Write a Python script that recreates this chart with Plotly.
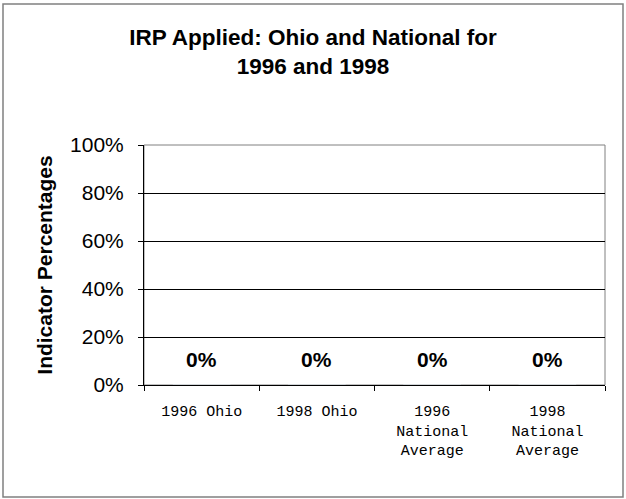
import plotly.graph_objects as go

# Chart data
categories = ["1996 Ohio", "1998 Ohio", "1996 National Average", "1998 National Average"]
tick_labels = ["1996 Ohio", "1998 Ohio", "1996<br>National<br>Average", "1998<br>National<br>Average"]
values = [0.0, 0.0, 0.0, 0.0]
y_ticks = [0, 0.2, 0.4, 0.6, 0.8, 1.0]
y_tick_labels = ["0%", "20%", "40%", "60%", "80%", "100%"]

sans = "Liberation Sans, Arial, sans-serif"
mono = "Liberation Mono, Courier New, monospace"

fig = go.Figure()
fig.add_trace(go.Bar(x=categories, y=values, marker_color="#9999ff", width=0.5, showlegend=False))

# Data labels, placed a bit above each (zero) bar
for c, v in zip(categories, values):
    fig.add_annotation(x=c, y=v, text=f"<b>{v:.0%}</b>", showarrow=False,
                       yshift=26, font=dict(family=sans, size=21, color="black"))

fig.update_layout(
    width=626, height=499,
    margin=dict(l=144, r=21, t=145, b=114),
    paper_bgcolor="white", plot_bgcolor="white",
    title=dict(text="<b>IRP Applied: Ohio and National for<br>1996 and 1998</b>",
               x=0.5, xanchor="center", y=1 - 45 / 499, yanchor="middle",
               font=dict(family=sans, size=22.5, color="black")),
    bargap=0.5,
)

fig.update_xaxes(
    tickmode="array", tickvals=categories, ticktext=tick_labels,
    tickson="boundaries", ticks="outside", ticklen=5, tickcolor="black",
    showline=True, linecolor="black", linewidth=1,
    showgrid=False, ticklabelstandoff=12,
    tickfont=dict(family=mono, size=15, color="black"),
)
fig.update_yaxes(
    range=[0, 1], tickvals=y_ticks, ticktext=y_tick_labels,
    ticks="outside", ticklen=5, tickcolor="black",
    showline=True, linecolor="black", linewidth=1,
    showgrid=True, gridcolor="black", gridwidth=1, zeroline=False,
    ticklabelstandoff=10,
    tickfont=dict(family=sans, size=21, color="black"),
    title=dict(text="<b>Indicator Percentages</b>", standoff=11,
               font=dict(family=sans, size=21, color="black")),
)

# Grey plot-area frame and outer chart border
fig.add_shape(type="rect", xref="paper", yref="paper", x0=0, x1=1, y0=0, y1=1,
              line=dict(color="#808080", width=1), layer="below")
fig.add_shape(type="rect", xref="paper", yref="paper",
              x0=(3 - 144) / 461, x1=(623 - 144) / 461,
              y0=(385 - 497) / 240, y1=(385 - 4) / 240,
              line=dict(color="#808080", width=1.5))

# page body has a default 8px margin; drop it so the chart fills the window
fig.write_html("out.html", config={"displayModeBar": False},
               post_script="document.body.style.margin='0';")
